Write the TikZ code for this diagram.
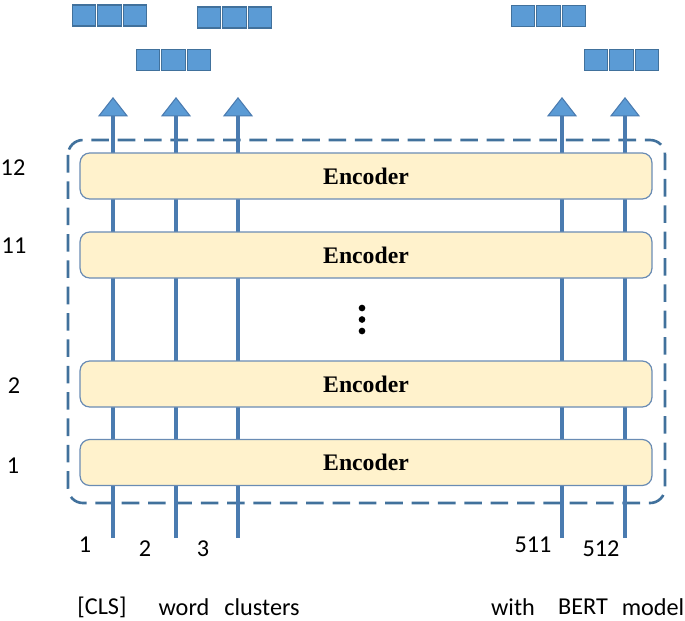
\documentclass[tikz,border=0pt]{standalone}
\usepackage{fontspec}
\setmainfont{Carlito}
\newfontfamily\encfont{Liberation Serif}
\usepackage{xcolor}
\usetikzlibrary{arrows.meta}
\definecolor{encfill}{HTML}{FFF2CC}
\definecolor{encline}{HTML}{6A8CB4}
\definecolor{frameblue}{HTML}{41719C}
\definecolor{tokblue}{HTML}{5B9BD5}
\definecolor{tokline}{HTML}{4A7BB0}

\tikzset{
  encoder/.style={draw=encline, line width=0.7pt, fill=encfill, rounded corners=5.5pt,
    minimum width=11.44cm, minimum height=0.92cm,
    font=\encfont\bfseries\fontsize{13.5}{16}\selectfont},
  tok/.style={draw=frameblue, line width=0.6pt, fill=tokblue,
    minimum width=0.47cm, minimum height=0.42cm, inner sep=0pt},
  tokarrow/.style={tokline, line width=1.9pt,
    -{Triangle[width=17pt, length=11pt, fill=tokblue, line width=0.6pt]}},
  lbl/.style={font=\fontsize{13.8}{16}\selectfont, inner sep=0pt}
}

\begin{document}
\begin{tikzpicture}[x=0.02cm, y=-0.02cm]
\useasboundingbox (0,0) rectangle (685,620);

% dashed frame round the stack
\draw[frameblue, line width=1.5pt, dash pattern=on 10pt off 5pt, rounded corners=8.5pt]
  (68,140) rectangle (665,503);

% token paths
\foreach \k/\x in {1/113, 2/176, 3/238, 511/562, 512/625} {
  \coordinate (in\k) at (\x,538);
  \coordinate (out\k) at (\x,97);
  \draw[tokarrow] (in\k) -- (out\k);
}

% encoder layers
\node[encoder] (enc12) at (366,176) {Encoder};
\node[encoder] (enc11) at (366,255) {Encoder};
\node[encoder] (enc2) at (366,384) {Encoder};
\node[encoder] (enc1) at (366,462.5) {Encoder};
\foreach \y in {308,319.5,331}
  \fill (362,\y) circle (1.9pt);

% output vectors
\foreach \bn/\bx/\by in {outa/84/15.5, outb/209/17.5, outc/148/60, outd/523/16, oute/596/60} {
  \foreach \j in {0,1,2}
    \node[tok] (\bn\j) at (\bx+\j*25.5,\by) {};
}

% layer numbers
\node[lbl] (lay12) at (13,168) {12};
\node[lbl] (lay11) at (14,246) {11};
\node[lbl] (lay2) at (14,386) {2};
\node[lbl] (lay1) at (13,466) {1};

% positions
\node[lbl] (pos1) at (85,545) {1};
\node[lbl] (pos2) at (145,549) {2};
\node[lbl] (pos3) at (203,549) {3};
\node[lbl] (pos511) at (533,545) {511};
\node[lbl] (pos512) at (601,549) {512};

% input words
\node[lbl] (w1) at (102,607) {[CLS]};
\node[lbl] (w2) at (184,607) {word};
\node[lbl] (w3) at (262,607) {clusters};
\node[lbl] (w4) at (513,607) {with};
\node[lbl] (w5) at (583,607) {BERT};
\node[lbl] (w6) at (653,607) {model};
\end{tikzpicture}
\end{document}
